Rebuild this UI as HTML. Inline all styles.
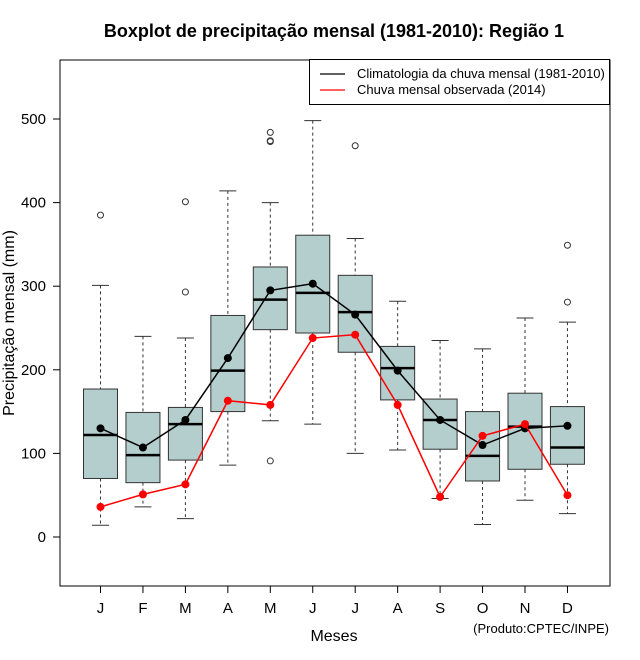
<!DOCTYPE html>
<html><head><meta charset="utf-8"><style>
body{margin:0;background:#fff;}
svg{display:block;font-family:"Liberation Sans",sans-serif;}
</style></head><body>
<svg id="c" width="640" height="660" xmlns="http://www.w3.org/2000/svg">
<text x="334" y="37" text-anchor="middle" font-size="18" font-weight="bold">Boxplot de precipitação mensal (1981-2010): Região 1</text>
<rect x="60" y="60" width="550" height="526" fill="none" stroke="#000" stroke-width="1"/>
<g id="yaxis"></g>
<g id="xaxis"></g>
<g id="boxes"></g>
<g id="lines"></g>
<text transform="translate(14,323) rotate(-90)" text-anchor="middle" font-size="16">Precipitação mensal (mm)</text>
<text x="334" y="641" text-anchor="middle" font-size="16">Meses</text>
<text x="609" y="633" text-anchor="end" font-size="13">(Produto:CPTEC/INPE)</text>
<g>
<rect x="309.5" y="59.5" width="300" height="45" fill="#fff" stroke="#000"/>
<line x1="320" y1="74" x2="345" y2="74" stroke="#000" stroke-width="1.2"/>
<text x="357" y="78" font-size="13">Climatologia da chuva mensal (1981-2010)</text>
<line x1="320" y1="90" x2="345" y2="90" stroke="#f00" stroke-width="1.2"/>
<text x="357" y="94" font-size="13">Chuva mensal observada (2014)</text>
</g>
</svg>
<script>
const months=["J","F","M","A","M","J","J","A","S","O","N","D"];
const whiskLow=[14,36,22,86,139,135,100,104,46,15,44,28];
const q1=[70,65,92,150,248,244,221,164,105,67,81,87];
const median=[122,98,135,199,284,292,269,202,140,97,132,107];
const q3=[177,149,155,265,323,361,313,228,165,150,172,156];
const whiskHigh=[301,240,238,414,400,498,357,282,235,225,262,257];
const outliers=[[385],[],[401,293],[],[484,474,473,91],[],[468],[],[],[],[],[349,281]];
const climMean=[130,107,140,214,295,303,266,199,140,110,130,133];
const observed2014=[36,51,63,163,158,238,242,158,48,121,135,50];
const yTicks=[0,100,200,300,400,500];

const NS="http://www.w3.org/2000/svg";
function y(v){return 537-v*0.836;}
function x(i){return 100.5+i*42.45;}
function mk(tag,attrs,parent){const e=document.createElementNS(NS,tag);for(const k in attrs)e.setAttribute(k,attrs[k]);parent.appendChild(e);return e;}
const ya=document.getElementById('yaxis'),xa=document.getElementById('xaxis'),bx=document.getElementById('boxes'),ln=document.getElementById('lines');
mk('line',{x1:60,y1:y(0),x2:60,y2:y(500),stroke:'#000'},ya);
yTicks.forEach(t=>{
  const tk=mk('line',{x1:53,y1:y(t),x2:60,y2:y(t),stroke:'#000'},ya);
  
  
  const tx=mk('text',{x:46,y:y(t)+5,'text-anchor':'end','font-size':15},ya);
  tx.textContent=t;
  
  
});
mk('line',{x1:x(0),y1:586,x2:x(11),y2:586,stroke:'#000'},xa);
months.forEach((m,i)=>{
  const tk=mk('line',{x1:x(i),y1:586,x2:x(i),y2:593,stroke:'#000'},xa);
  
  
  const tx=mk('text',{x:x(i),y:613,'text-anchor':'middle','font-size':15},xa);
  tx.textContent=m;
  
  
  const g=mk('g',{},bx);
  
  
  const cx=x(i),hw=17,cap=8.5;
  mk('line',{x1:cx,y1:y(whiskHigh[i]),x2:cx,y2:y(q3[i]),stroke:'#333','stroke-dasharray':'3,3'},g);
  mk('line',{x1:cx,y1:y(q1[i]),x2:cx,y2:y(whiskLow[i]),stroke:'#333','stroke-dasharray':'3,3'},g);
  mk('line',{x1:cx-cap,y1:y(whiskHigh[i]),x2:cx+cap,y2:y(whiskHigh[i]),stroke:'#333'},g);
  mk('line',{x1:cx-cap,y1:y(whiskLow[i]),x2:cx+cap,y2:y(whiskLow[i]),stroke:'#333'},g);
  mk('rect',{x:cx-hw,y:y(q3[i]),width:hw*2,height:y(q1[i])-y(q3[i]),fill:'#b4cece',stroke:'#333'},g);
  mk('line',{x1:cx-hw,y1:y(median[i]),x2:cx+hw,y2:y(median[i]),stroke:'#000','stroke-width':2.5},g);
  outliers[i].forEach(o=>{
    const c=mk('circle',{cx:cx,cy:y(o),r:3,fill:'none',stroke:'#333'},g);
    
    
  });
});
function series(vals,col,name){
  const p=mk('polyline',{points:vals.map((v,i)=>x(i)+','+y(v)).join(' '),fill:'none',stroke:col,'stroke-width':1.5},ln);
  
  
  vals.forEach((v,i)=>{
    const c=mk('circle',{cx:x(i),cy:y(v),r:4,fill:col},ln);
    
    
  });
}
series(climMean,'#000','climatology');
series(observed2014,'#f00','observed');
</script>
</body></html>
